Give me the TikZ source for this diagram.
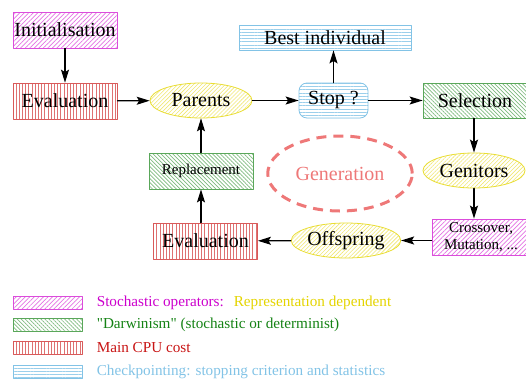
\documentclass[tikz,border=0pt]{standalone}
\usepackage{fontspec}
\setmainfont{Liberation Serif}
\usetikzlibrary{patterns.meta,shapes.geometric,arrows.meta,positioning}
\definecolor{stochcol}{RGB}{204,0,204}
\definecolor{reprcol}{RGB}{228,212,0}
\definecolor{darwincol}{RGB}{20,130,20}
\definecolor{cpucol}{RGB}{200,20,20}
\definecolor{checkcol}{RGB}{130,195,230}
\definecolor{gencol}{RGB}{238,120,120}
\tikzset{
  stoch/.style={draw=stochcol!70,line width=0.4pt,pattern={Lines[angle=45,distance=1.6pt,line width=0.35pt]},pattern color=stochcol!55},
  darwin/.style={draw=darwincol!70,line width=0.4pt,pattern={Lines[angle=-45,distance=1.4pt,line width=0.35pt]},pattern color=darwincol!55},
  cpu/.style={draw=cpucol!70,line width=0.4pt,pattern={Lines[angle=90,distance=1.6pt,line width=0.35pt]},pattern color=cpucol!60},
  check/.style={draw=checkcol,line width=0.4pt,pattern={Lines[angle=0,distance=1.6pt,line width=0.35pt]},pattern color=checkcol!80},
  repr/.style={ellipse,draw=reprcol!80,line width=0.4pt,pattern={Lines[angle=45,distance=1.4pt,line width=0.3pt]},pattern color=reprcol!55,
    minimum width=51pt,minimum height=17.5pt,inner sep=0pt,font=\fontsize{10}{12}\selectfont},
  box/.style={rectangle,minimum width=52pt,minimum height=18pt,inner sep=0pt,font=\fontsize{10}{12}\selectfont},
  swatch/.style={rectangle,minimum width=34.5pt,minimum height=6.5pt,inner sep=0pt},
  keytext/.style={right=7pt of #1,inner sep=0pt,font=\fontsize{7.6}{9}\selectfont}
}
\begin{document}
\begin{tikzpicture}[line cap=round,line join=round,>={Stealth[length=6.5pt,width=4pt,inset=1.2pt]},x=0.5pt,y=-0.5pt]
\useasboundingbox (0,0) rectangle (526,381);
% generation loop
\node[stoch,box] (init) at (65,30) {Initialisation};
\node[cpu,box] (evaltop) at (65,101) {Evaluation};
\node[repr] (parents) at (201,100.5) {Parents};
\node[check,box,rounded corners=4pt,minimum width=34.5pt,minimum height=17.5pt] (stop) at (333.5,100.5) {Stop ?};
\node[check,box,minimum width=86pt,minimum height=12.5pt] (best) at (325,37.5) {Best individual};
\node[darwin,box,minimum height=17.5pt] (select) at (475,100.5) {Selection};
\node[repr] (genitors) at (474,170.5) {Genitors};
\node[stoch,box,minimum width=49pt,align=center,font=\fontsize{7.5}{8.5}\selectfont] (cross) at (481,237) {Crossover,\\Mutation, ...};
\node[repr] (offspring) at (346,240.5) {Offspring};
\node[cpu,box] (evalbot) at (205.5,241) {Evaluation};
\node[darwin,box,font=\fontsize{7.5}{9}\selectfont] (replace) at (201,171) {Replacement};
\node[ellipse,draw=gencol,line width=1.5pt,dash pattern=on 5pt off 3.5pt,line cap=butt,minimum width=68.5pt,minimum height=37.5pt,
  text=gencol,font=\fontsize{10}{12}\selectfont] (generation) at (340,173.5) {Generation};
\draw[line width=0.6pt,->] (init) -- (evaltop);
\draw[line width=0.6pt,->] (evaltop) -- (parents);
\draw[line width=0.6pt,->] (parents) -- (stop);
\draw[line width=0.6pt,->] (stop.north) -- (stop.north |- best.south);
\draw[line width=0.6pt,->] (stop) -- (select);
\draw[line width=0.6pt,->] (select.south -| genitors) -- (genitors);
\draw[line width=0.6pt,->] (genitors) -- (genitors |- cross.north);
\draw[line width=0.6pt,->] (cross.west |- offspring) -- (offspring);
\draw[line width=0.6pt,->] (offspring) -- (evalbot);
\draw[line width=0.6pt,->] (evalbot.north -| replace) -- (replace);
\draw[line width=0.6pt,->] (replace) -- (parents);
% legend
\node[stoch,swatch] (keystoch) at (47.5,302.5) {};
\node[darwin,swatch] (keydarwin) at (47.5,325) {};
\node[cpu,swatch] (keycpu) at (47.5,347.5) {};
\node[check,swatch] (keycheck) at (47.5,372) {};
\node[keytext=keystoch,anchor=west] (txtstoch) {\textcolor{stochcol}{Stochastic operators:}\hspace{5pt}\textcolor{reprcol}{Representation dependent}};
\node[keytext=keydarwin,anchor=west,text=darwincol] (txtdarwin) {\textquotedbl Darwinism\textquotedbl{} (stochastic or determinist)};
\node[keytext=keycpu,anchor=west,text=cpucol] (txtcpu) {Main CPU cost};
\node[keytext=keycheck,anchor=west,text=checkcol] (txtcheck) {Checkpointing: stopping criterion and statistics};
\end{tikzpicture}
\end{document}
